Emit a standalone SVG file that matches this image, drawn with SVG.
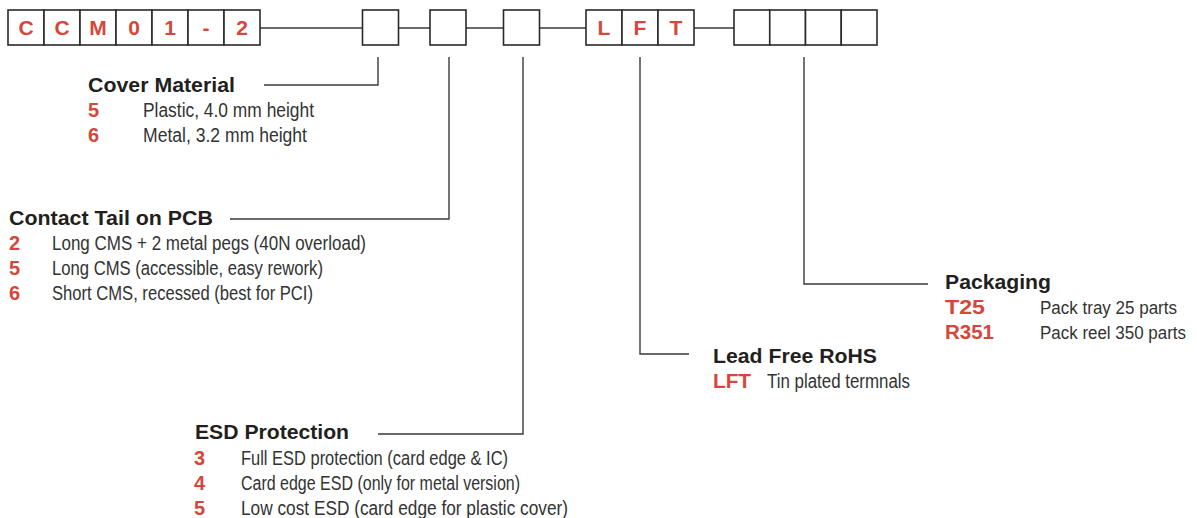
<svg xmlns="http://www.w3.org/2000/svg" width="1197" height="518" viewBox="0 0 1197 518">
<style>
.box{fill:#fff;stroke:#2a2a2a;stroke-width:1.6}
.code{font-family:"Liberation Sans",Arial,sans-serif;font-weight:bold;font-size:21px;fill:#d5473a;text-anchor:middle}
.ln{fill:none;stroke:#3a3a3a;stroke-width:1.4}
.title{font-family:"Liberation Sans",Arial,sans-serif;font-weight:bold;font-size:20.5px;fill:#231f20}
.num{font-family:"Liberation Sans",Arial,sans-serif;font-weight:bold;font-size:20px;fill:#d5473a}
.txt{font-family:"Liberation Sans",Arial,sans-serif;font-size:19.5px;fill:#333}
.txt.sm{font-size:17.5px}
</style>
<rect width="1197" height="518" fill="#fff"/>
<g id="connectors">
<path class="ln" d="M260 28H362.5M398.5 28H430M466 28H503.5M539.5 28H586M694 28H734"/>
<path class="ln" d="M378 57V85H264"/>
<path class="ln" d="M449 57V219H230"/>
<path class="ln" d="M523 57V434H378"/>
<path class="ln" d="M640 57V354H689"/>
<path class="ln" d="M804 57V284H928"/>
</g>
<g id="code-base">
<rect class="box" x="8" y="10" width="36" height="35"/>
<rect class="box" x="44" y="10" width="36" height="35"/>
<rect class="box" x="80" y="10" width="36" height="35"/>
<rect class="box" x="116" y="10" width="36" height="35"/>
<rect class="box" x="152" y="10" width="36" height="35"/>
<rect class="box" x="188" y="10" width="36" height="35"/>
<rect class="box" x="224" y="10" width="36" height="35"/>
<text class="code" x="26" y="35">C</text>
<text class="code" x="62" y="35">C</text>
<text class="code" x="98" y="35">M</text>
<text class="code" x="134" y="35">0</text>
<text class="code" x="170" y="35">1</text>
<text class="code" x="206" y="35">-</text>
<text class="code" x="242" y="35">2</text>
</g>
<g id="box-cover"><rect class="box" x="362.5" y="10" width="36" height="35"/></g>
<g id="box-tail"><rect class="box" x="430" y="10" width="36" height="35"/></g>
<g id="box-esd"><rect class="box" x="503.5" y="10" width="36" height="35"/></g>
<g id="box-lft">
<rect class="box" x="586" y="10" width="36" height="35"/>
<rect class="box" x="622" y="10" width="36" height="35"/>
<rect class="box" x="658" y="10" width="36" height="35"/>
<text class="code" x="604" y="35">L</text>
<text class="code" x="640" y="35">F</text>
<text class="code" x="676" y="35">T</text>
</g>
<g id="box-pack">
<rect class="box" x="734" y="10" width="35.75" height="35"/>
<rect class="box" x="769.75" y="10" width="35.75" height="35"/>
<rect class="box" x="805.5" y="10" width="35.75" height="35"/>
<rect class="box" x="841.25" y="10" width="35.75" height="35"/>
</g>
<g id="cover-material">
<text class="title" x="88" y="92" textLength="147" lengthAdjust="spacingAndGlyphs">Cover Material</text>
<text class="num" x="88" y="117">5</text>
<text class="txt" x="143" y="117" textLength="171" lengthAdjust="spacingAndGlyphs">Plastic, 4.0 mm height</text>
<text class="num" x="88" y="142">6</text>
<text class="txt" x="143" y="142" textLength="164" lengthAdjust="spacingAndGlyphs">Metal, 3.2 mm height</text>
</g>
<g id="contact-tail">
<text class="title" x="9" y="225" textLength="204" lengthAdjust="spacingAndGlyphs">Contact Tail on PCB</text>
<text class="num" x="9" y="250">2</text>
<text class="txt" x="52" y="250" textLength="314" lengthAdjust="spacingAndGlyphs">Long CMS + 2 metal pegs (40N overload)</text>
<text class="num" x="9" y="275">5</text>
<text class="txt" x="52" y="275" textLength="271" lengthAdjust="spacingAndGlyphs">Long CMS (accessible, easy rework)</text>
<text class="num" x="9" y="300">6</text>
<text class="txt" x="52" y="300" textLength="261" lengthAdjust="spacingAndGlyphs">Short CMS, recessed (best for PCI)</text>
</g>
<g id="esd-protection">
<text class="title" x="195" y="439" textLength="154" lengthAdjust="spacingAndGlyphs">ESD Protection</text>
<text class="num" x="194" y="465">3</text>
<text class="txt" x="241" y="465" textLength="267" lengthAdjust="spacingAndGlyphs">Full ESD protection (card edge &amp; IC)</text>
<text class="num" x="194" y="490">4</text>
<text class="txt" x="241" y="490" textLength="279" lengthAdjust="spacingAndGlyphs">Card edge ESD (only for metal version)</text>
<text class="num" x="194" y="515">5</text>
<text class="txt" x="241" y="515" textLength="327" lengthAdjust="spacingAndGlyphs">Low cost ESD (card edge for plastic cover)</text>
</g>
<g id="lead-free">
<text class="title" x="713" y="363" textLength="164" lengthAdjust="spacingAndGlyphs">Lead Free RoHS</text>
<text class="num" x="713" y="388" textLength="38" lengthAdjust="spacingAndGlyphs">LFT</text>
<text class="txt" x="767" y="388" textLength="143" lengthAdjust="spacingAndGlyphs">Tin plated termnals</text>
</g>
<g id="packaging">
<text class="title" x="945" y="289" textLength="106" lengthAdjust="spacingAndGlyphs">Packaging</text>
<text class="num" x="945" y="314" textLength="40" lengthAdjust="spacingAndGlyphs">T25</text>
<text class="txt sm" x="1040" y="314" textLength="137" lengthAdjust="spacingAndGlyphs">Pack tray 25 parts</text>
<text class="num" x="945" y="339" textLength="49" lengthAdjust="spacingAndGlyphs">R351</text>
<text class="txt sm" x="1040" y="339" textLength="146" lengthAdjust="spacingAndGlyphs">Pack reel 350 parts</text>
</g>
</svg>
